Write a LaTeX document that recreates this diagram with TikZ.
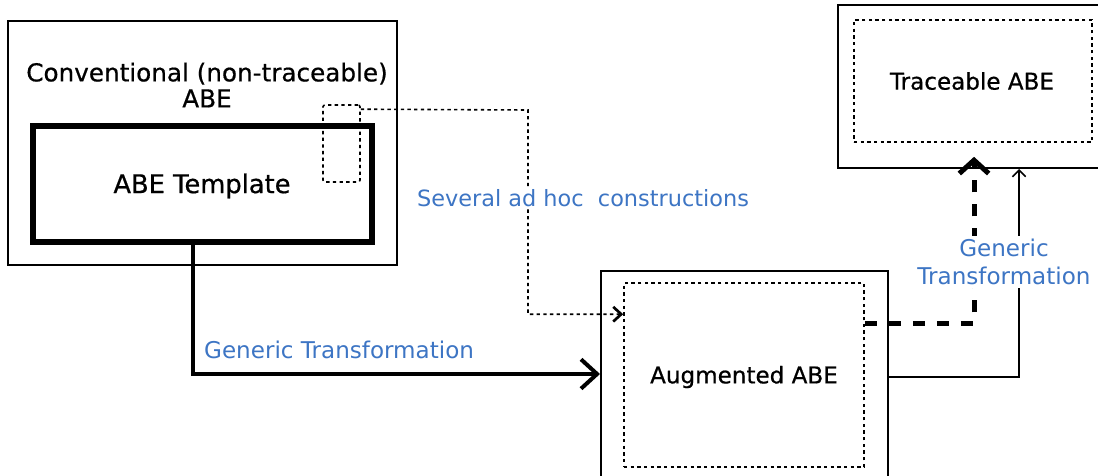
\documentclass[tikz,border=0pt]{standalone}
\usepackage{fontspec}
\setmainfont{DejaVu Sans}
\newfontfamily\boxfont[FakeBold=0.6]{DejaVu Sans}
\usetikzlibrary{arrows.meta,fit,calc}
\definecolor{labelblue}{RGB}{61,117,196}
\tikzset{every picture/.style={line width=0.75pt}}
\tikzset{
  outerbox/.style={draw, line width=1.5pt, inner sep=0pt},
  templatebox/.style={draw, line width=4.5pt, inner sep=0pt},
  dottedbox/.style={draw, line width=1.2pt, dash pattern=on 2.5pt off 2.5pt, inner sep=0pt},
  boxlabel/.style={font=\boxfont\fontsize{17.3}{19.5}\selectfont},
  translabel/.style={text=labelblue, font=\fontsize{17.3}{21}\selectfont, fill=white, inner sep=2pt},
}

\begin{document}
\begin{tikzpicture}[x=0.75pt,y=0.75pt,yscale=-1,xscale=1]
\useasboundingbox (0,0) rectangle (1098,475);

%Shape: Rectangle
\node [outerbox, fit={(8,21)(397,265)}] (conv) {};
%Shape: Rectangle
\node [templatebox, fit={(33,126)(372,242)}] (template) {};
%Shape: Rectangle
\node [dottedbox, rounded corners=1.5pt, fit={(323,105)(360,182)}] (adhoc) {};
%Shape: Rectangle
\node [outerbox, fit={(601,271)(888,477)}] (augouter) {};
%Shape: Rectangle
\node [dottedbox, fit={(624,283)(864,467)}] (auginner) {};
%Shape: Rectangle
\node [outerbox, fit={(838,5)(1106,168)}] (traceouter) {};
%Shape: Rectangle
\node [dottedbox, fit={(854,20)(1092,142)}] (traceinner) {};

%Straight Lines
\coordinate (adhocbend) at (528,110);
\draw [line width=1.2pt, dash pattern=on 2.5pt off 2.5pt, -{Straight Barb[length=6pt,width=11pt,line width=2pt]}]
  ($(adhoc.north east)+(0,5)$) -- (adhocbend) |- ($(auginner.north west)+(0,32)$);
%Straight Lines
\draw [line width=3pt, -{Straight Barb[length=12pt,width=22pt]}]
  ($(template.south)+(-10,0)$) |- (augouter.west);
%Straight Lines
\draw [line width=3.75pt, dash pattern=on 9pt off 9pt, -{Straight Barb[length=10pt,width=22pt]}]
  ($(auginner.north east)+(0,41)$) -| ($(traceinner.south)+(1,14)$);
%Straight Lines
\draw [line width=1.2pt, -{Straight Barb[length=5pt,width=10pt]}]
  ($(augouter.east)+(0,3)$) -| ($(traceouter.south west)+(182,0)$);

% Text Node
\node [boxlabel, align=center, font=\boxfont\fontsize{18.5}{19.5}\selectfont] (convlabel) at (207,85) {Conventional (non-traceable)\\ABE};
% Text Node
\node [boxlabel, font=\boxfont\fontsize{19.3}{22}\selectfont] (templatelabel) at (202,186) {ABE Template};
% Text Node
\node [boxlabel] (auglabel) at (744,377) {Augmented ABE};
% Text Node
\node [boxlabel] (tracelabel) at (972,81) {Traceable ABE};
% Text Node
\node [translabel, font=\fontsize{16.8}{21}\selectfont] (adhoclabel) at (583,198) {Several ad hoc\ \ constructions};
% Text Node
\node [translabel, fill=none, anchor=west] (genlabel) at (201,350) {Generic Transformation};
% Text Node
\node [translabel, align=center] (genlabel2) at (1004,262) {Generic\\Transformation};

\end{tikzpicture}
\end{document}
